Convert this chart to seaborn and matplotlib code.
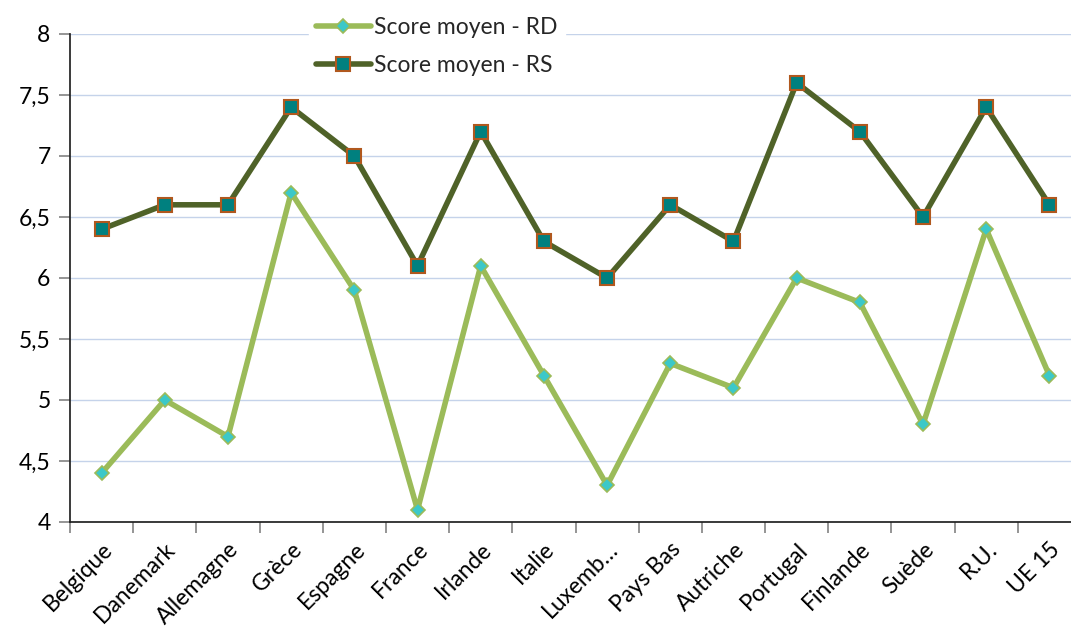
import numpy as np
import pandas as pd
import matplotlib
matplotlib.use("Agg")
import matplotlib.pyplot as plt
import seaborn as sns
from matplotlib.ticker import FuncFormatter

# ── Data ──────────────────────────────────────────────────────────────────────
pays = ["Belgique", "Danemark", "Allemagne", "Grèce", "Espagne", "France",
        "Irlande", "Italie", "Luxemb…", "Pays Bas", "Autriche", "Portugal",
        "Finlande", "Suède", "R.U.", "UE 15"]
score_rd = [4.4, 5.0, 4.7, 6.7, 5.9, 4.1, 6.1, 5.2, 4.3, 5.3, 5.1, 6.0, 5.8, 4.8, 6.4, 5.2]
score_rs = [6.4, 6.6, 6.6, 7.4, 7.0, 6.1, 7.2, 6.3, 6.0, 6.6, 6.3, 7.6, 7.2, 6.5, 7.4, 6.6]

df = pd.DataFrame({"pos": np.arange(len(pays)), "pays": pays,
                   "rd": score_rd, "rs": score_rs})

sns.set_theme(style="white")
plt.rcParams["font.family"] = ["Lato", "DejaVu Sans"]

fig = plt.figure(figsize=(10.71, 6.32), dpi=100)
ax = fig.add_axes([70 / 1071, 110 / 632, 1011 / 1071, 488 / 632])

sns.lineplot(data=df, x="pos", y="rd", ax=ax, color="#9BBB59", lw=4,
             marker="D", markersize=7, markerfacecolor="#3CC8C8",
             markeredgecolor="#9BBB59", markeredgewidth=1.2,
             label="Score moyen - RD", zorder=3)
sns.lineplot(data=df, x="pos", y="rs", ax=ax, color="#4F6228", lw=4,
             marker="s", markersize=10, markerfacecolor="#00807F",
             markeredgecolor="#B0581E", markeredgewidth=1.5,
             label="Score moyen - RS", zorder=4)

ax.set_xlim(-0.5, len(pays) - 0.5)
ax.set_ylim(4, 8)
ax.set_yticks(np.arange(4, 8.01, 0.5))
ax.yaxis.set_major_formatter(FuncFormatter(lambda v, _: f"{v:g}".replace(".", ",")))
ax.grid(axis="y", color="#C5D3EA", lw=1)
ax.set_axisbelow(True)

# category ticks on boundaries, labels at centres
ax.set_xticks(np.arange(len(pays) + 1) - 0.5)
ax.set_xticklabels([])
ax.set_xticks(np.arange(len(pays)), minor=True)
ax.set_xticklabels(pays, minor=True, rotation=45, ha="right",
                   rotation_mode="anchor", fontsize=16.5, color="black")
ax.tick_params(axis="x", which="minor", length=0, pad=12)
ax.tick_params(axis="x", which="major", length=8, color="#888888", bottom=True)
ax.tick_params(axis="y", length=8, color="#888888", left=True, labelsize=16.5,
               labelcolor="black", pad=6)

for s in ["top", "right"]:
    ax.spines[s].set_visible(False)
ax.spines["left"].set_color("#222222")
ax.spines["bottom"].set_color("#222222")

ax.set_xlabel("")
ax.set_ylabel("")

leg = ax.legend(loc="upper left", bbox_to_anchor=(0.225, 1.072), frameon=True,
                fontsize=16.5, handlelength=2.4, handletextpad=0.15,
                borderpad=0.3, labelspacing=0.75, facecolor="white",
                edgecolor="white", framealpha=1)

fig.savefig("out.png", dpi=100)
